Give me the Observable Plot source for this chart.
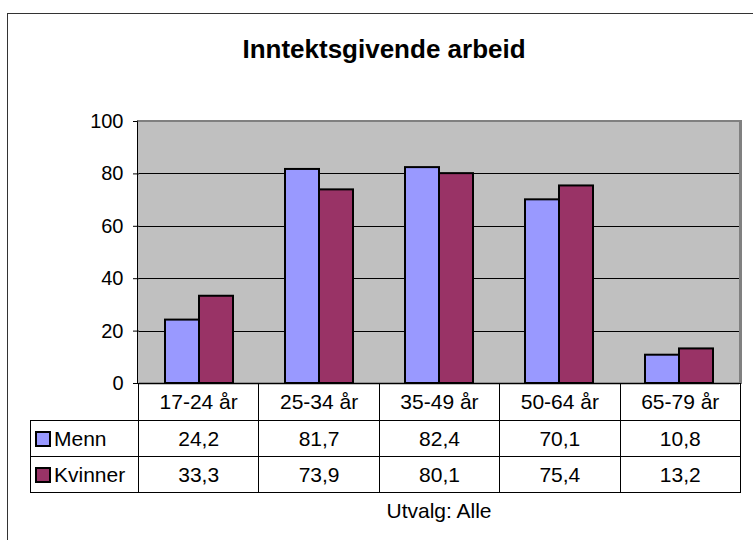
<!DOCTYPE html>
<html>
<head>
<meta charset="utf-8">
<script src="https://cdn.jsdelivr.net/npm/d3@7"></script>
<script src="https://cdn.jsdelivr.net/npm/@observablehq/plot@0.6"></script>
<style>
  html, body { margin: 0; padding: 0; background: #fff; }
  #chart { position: relative; width: 753px; height: 540px; overflow: hidden; font-family: "Liberation Sans", Arial, sans-serif; color: #000; }
  #outer { position: absolute; left: 7px; top: 13px; width: 800px; height: 600px; border: 1.5px solid #333; box-sizing: border-box; }
  #title { position: absolute; left: 0; width: 768px; top: 36px; text-align: center; font-size: 26px; font-weight: bold; line-height: 26px; }
  #bg { position: absolute; left: 138px; top: 121px; width: 602px; height: 262px; background: #c0c0c0; }
  #plot { position: absolute; left: 0; top: 100px; }
  #frame { position: absolute; left: 137px; top: 120px; width: 605px; height: 263.5px; box-sizing: border-box;
           border-top: 2px solid #808080; border-right: 3px solid #808080; border-left: 1.5px solid #000; pointer-events: none; }
  #table { position: absolute; left: 30px; top: 383px; border-collapse: collapse; table-layout: fixed; font-size: 21px; }
  #table td { border: 1px solid #000; text-align: center; padding: 0; white-space: nowrap; }
  #table td.lab { text-align: left; padding-left: 3px; }
  #table td.blank { border-top: none; border-left: none; border-bottom: none; }
  .sw { display: inline-block; width: 12px; height: 12px; border: 2px solid #000; vertical-align: -1px; margin-right: 3px; margin-left: 1px; }
  #caption { position: absolute; left: 138px; width: 602px; top: 500px; text-align: center; font-size: 21px; line-height: 21px; }
</style>
</head>
<body>
<div id="chart">
  <div id="outer"></div>
  <div id="title"></div>
  <div id="bg"></div>
  <div id="plot"></div>
  <div id="frame"></div>
  <table id="table"></table>
  <div id="caption"></div>
</div>
<script>
const titleText = "Inntektsgivende arbeid";
const captionText = "Utvalg: Alle";
const ages = ["17-24 år", "25-34 år", "35-49 år", "50-64 år", "65-79 år"];
const series = ["Menn", "Kvinner"];
const menn = [24.2, 81.7, 82.4, 70.1, 10.8];
const kvinner = [33.3, 73.9, 80.1, 75.4, 13.2];
const yTicks = [0, 20, 40, 60, 80, 100];
const gridLines = [20, 40, 60, 80];
const colors = ["#9999ff", "#993366"];

const values = {Menn: menn, Kvinner: kvinner};
const data = ages.flatMap((age, i) => series.map(s => ({age, sex: s, value: values[s][i]})));

document.getElementById("title").textContent = titleText;
document.getElementById("caption").textContent = captionText;

const plot = Plot.plot({
  width: 753,
  height: 285,
  marginLeft: 138,
  marginRight: 13,
  marginTop: 21,
  marginBottom: 2,
  style: {fontFamily: "'Liberation Sans', Arial, sans-serif", fontSize: "20px", color: "#000", background: "transparent", overflow: "visible"},
  fx: {domain: ages, padding: 0, axis: null},
  x: {domain: series, paddingInner: 0, paddingOuter: 0.717, axis: null},
  y: {domain: [0, 100], ticks: yTicks, tickSize: 6, tickPadding: 10, label: null},
  color: {domain: series, range: colors},
  marks: [
    Plot.ruleY(gridLines, {stroke: "#000", strokeWidth: 1, shapeRendering: "crispEdges"}),
    Plot.barY(data, {fx: "age", x: "sex", y: "value", fill: "sex", stroke: "#000", strokeWidth: 2}),
    Plot.ruleY([0], {stroke: "#000", strokeWidth: 1.5})
  ]
});
document.getElementById("plot").appendChild(plot);

// data table
const fmt = v => d3.format(".1f")(v).replace(".", ",");
const table = document.getElementById("table");
const colg = document.createElement("colgroup");
colg.innerHTML = `<col style="width:108px">` + ages.map(() => `<col style="width:120.4px">`).join("");
table.appendChild(colg);
const head = document.createElement("tr");
head.style.height = "37px";
head.innerHTML = `<td class="blank"></td>` + ages.map(a => `<td>${a}</td>`).join("");
table.appendChild(head);
series.forEach((s, k) => {
  const tr = document.createElement("tr");
  tr.style.height = "36px";
  tr.innerHTML = `<td class="lab"><span class="sw" style="background:${colors[k]}"></span>${s}</td>` +
    values[s].map(v => `<td>${fmt(v)}</td>`).join("");
  table.appendChild(tr);
});
</script>
</body>
</html>
